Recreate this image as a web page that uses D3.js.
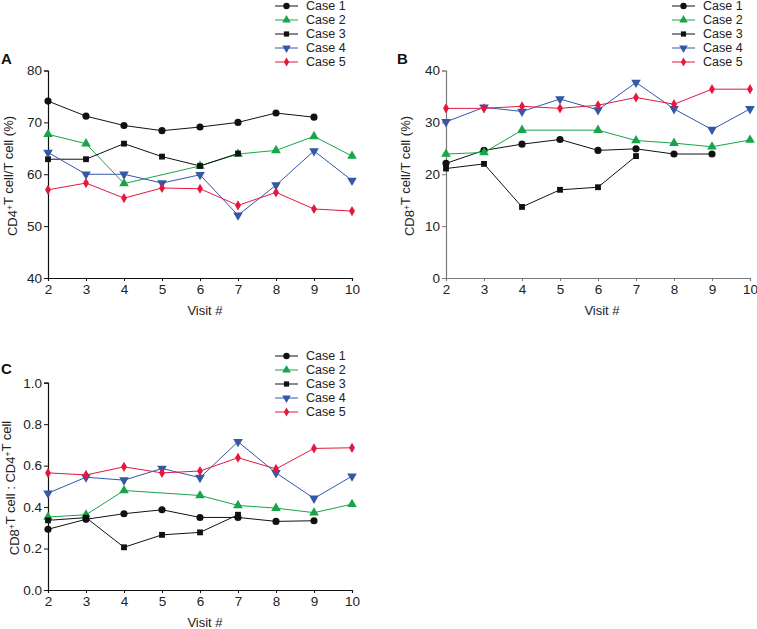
<!DOCTYPE html>
<html>
<head>
<meta charset="utf-8">
<script src="https://cdn.jsdelivr.net/npm/d3@7"></script>
<style>
  html, body { margin: 0; padding: 0; background: #fff; }
  svg { display: block; font-family: "Liberation Sans", Arial, Helvetica, sans-serif; }
</style>
</head>
<body>
<svg id="chart" width="757" height="629"></svg>
<script>
// ---- data ----
const visits = [2, 3, 4, 5, 6, 7, 8, 9, 10];
const caseNames = ["Case 1", "Case 2", "Case 3", "Case 4", "Case 5"];

// Panel A: CD4+ T cell / T cell (%)
const cd4Case1 = [74.1, 71.2, 69.4, 68.4, 69.1, 70.0, 71.8, 71.0, null];
const cd4Case2 = [67.7, 65.9, 58.2, null, 61.6, 63.9, 64.6, 67.3, 63.5];
const cd4Case3 = [62.9, 62.9, 65.9, 63.4, 61.6, 64.0, null, null, null];
const cd4Case4 = [64.2, 60.0, 60.0, 58.3, 59.9, 52.1, 57.9, 64.5, 58.8];
const cd4Case5 = [57.0, 58.3, 55.4, 57.35, 57.2, 54.0, 56.5, 53.3, 52.9];

// Panel B: CD8+ T cell / T cell (%)
const cd8Case1 = [22.1, 24.6, 25.8, 26.7, 24.6, 24.9, 23.9, 23.9, null];
const cd8Case2 = [23.9, 24.2, 28.5, null, 28.5, 26.5, 26.0, 25.3, 26.6];
const cd8Case3 = [21.1, 22.0, 13.7, 17.0, 17.5, 23.5, null, null, null];
const cd8Case4 = [30.1, 32.9, 32.1, 34.5, 32.4, 37.7, 32.6, 28.6, 32.6];
const cd8Case5 = [32.7, 32.7, 33.1, 32.7, 33.3, 34.8, 33.5, 36.4, 36.4];

// Panel C: CD8+ T cell : CD4+ T cell ratio
const ratioCase1 = [0.293, 0.341, 0.368, 0.387, 0.350, 0.350, 0.331, 0.334, null];
const ratioCase2 = [0.352, 0.363, 0.480, null, 0.456, 0.408, 0.395, 0.373, 0.414];
const ratioCase3 = [0.336, 0.349, 0.206, 0.266, 0.278, 0.363, null, null, null];
const ratioCase4 = [0.467, 0.544, 0.530, 0.586, 0.542, 0.715, 0.565, 0.442, 0.549];
const ratioCase5 = [0.565, 0.555, 0.594, 0.565, 0.574, 0.638, 0.584, 0.683, 0.686];

const yTicksA = [40, 50, 60, 70, 80];
const yTicksB = [0, 10, 20, 30, 40];
const yTicksC = [0, 0.2, 0.4, 0.6, 0.8, 1.0];

// ---- styles ----
const colors = ["#111111", "#17a54a", "#111111", "#3457a8", "#e5173f"];
const symbols = [d3.symbolCircle, d3.symbolTriangle, d3.symbolSquare, d3.symbolTriangle, d3.symbolDiamond];
const symSizes = [40, 40, 34, 40, 30];
const symRotate = [0, 0, 0, 180, 0];

const svg = d3.select("#chart");

function drawPanel(opt) {
  const g = svg.append("g");
  const x = d3.scaleLinear().domain([2, 10]).range([opt.x0, opt.x1]);
  const y = d3.scaleLinear().domain(opt.yDomain).range([opt.yBottom, opt.yTop]);

  const xAxis = g.append("g")
    .attr("transform", `translate(0,${opt.yBottom})`)
    .call(d3.axisBottom(x).tickValues(visits).tickSize(3).tickPadding(3).tickFormat(d3.format("d")));
  const yAxis = g.append("g")
    .attr("transform", `translate(${opt.x0},0)`)
    .call(d3.axisLeft(y).tickValues(opt.yTicks).tickSize(4).tickPadding(2).tickFormat(opt.fmt));
  [xAxis, yAxis].forEach(a => {
    a.select(".domain").attr("stroke", opt.axisColor).attr("stroke-width", 1.2);
    a.selectAll(".tick line").attr("stroke", opt.axisColor).attr("stroke-width", 1);
    a.selectAll(".tick text").attr("fill", "#222").style("font-size", "13.5px")
      .style("font-family", '"Liberation Sans", Arial, sans-serif');
  });

  const line = d3.line().x(d => x(d.v)).y(d => y(d.y));
  opt.series.forEach((vals, i) => {
    const pts = visits.map((v, k) => ({ v: v, y: vals[k] })).filter(d => d.y != null);
    g.append("path").datum(pts)
      .attr("d", line).attr("fill", "none")
      .attr("stroke", colors[i]).attr("stroke-width", 1);
    const sym = d3.symbol().type(symbols[i]).size(symSizes[i]);
    g.selectAll(null).data(pts).enter().append("path")
      .attr("d", sym)
      .attr("transform", d => `translate(${x(d.v)},${y(d.y)}) rotate(${symRotate[i]})`)
      .attr("fill", colors[i]);
  });

  // axis titles
  g.append("text")
    .attr("x", opt.xTitleX).attr("y", opt.xTitleY)
    .attr("text-anchor", "middle").attr("fill", "#222")
    .style("font-size", "13px").text("Visit #");

  const yt = g.append("text")
    .attr("transform", `translate(${opt.yTitleX},${opt.yTitleY}) rotate(-90)`)
    .attr("text-anchor", "middle").attr("fill", "#222")
    .style("font-size", "13px");
  opt.yTitleParts.forEach(p => {
    if (p.sup) {
      yt.append("tspan").attr("dy", "-4").style("font-size", "8.5px").text(p.t);
      yt.append("tspan").attr("dy", "4").text("");
    } else {
      yt.append("tspan").text(p.t);
    }
  });

  // panel letter
  g.append("text").attr("x", opt.letterX).attr("y", opt.letterY)
    .style("font-size", "15px").style("font-weight", "bold").attr("fill", "#111")
    .text(opt.letter);

  // legend
  const lg = g.append("g");
  caseNames.forEach((name, i) => {
    const yy = opt.legY + i * 14;
    lg.append("line").attr("x1", opt.legX).attr("x2", opt.legX + 23)
      .attr("y1", yy).attr("y2", yy).attr("stroke", colors[i]).attr("stroke-width", 1);
    lg.append("path").attr("d", d3.symbol().type(symbols[i]).size(symSizes[i] * 0.8)())
      .attr("transform", `translate(${opt.legX + 11.5},${yy}) rotate(${symRotate[i]})`)
      .attr("fill", colors[i]);
    lg.append("text").attr("x", opt.legX + 31).attr("y", yy + 4.3)
      .style("font-size", "12.5px").attr("fill", "#222").text(name);
  });
}

drawPanel({
  x0: 48, x1: 352, yTop: 70.5, yBottom: 278, yDomain: [40, 80], yTicks: yTicksA,
  fmt: d3.format("d"), axisColor: "#111",
  series: [cd4Case1, cd4Case2, cd4Case3, cd4Case4, cd4Case5],
  xTitleX: 205, xTitleY: 315, yTitleX: 17, yTitleY: 176,
  yTitleParts: [{t: "CD4"}, {t: "+", sup: true}, {t: "T cell/T cell (%)"}],
  letter: "A", letterX: 1, letterY: 64, legX: 275, legY: 6
});

drawPanel({
  x0: 446, x1: 750, yTop: 70.5, yBottom: 278, yDomain: [0, 40], yTicks: yTicksB,
  fmt: d3.format("d"), axisColor: "#7a7a7a",
  series: [cd8Case1, cd8Case2, cd8Case3, cd8Case4, cd8Case5],
  xTitleX: 602, xTitleY: 315, yTitleX: 414, yTitleY: 176,
  yTitleParts: [{t: "CD8"}, {t: "+", sup: true}, {t: "T cell/T cell (%)"}],
  letter: "B", letterX: 397, letterY: 64, legX: 672, legY: 6
});

drawPanel({
  x0: 48, x1: 352, yTop: 382.7, yBottom: 590, yDomain: [0, 1], yTicks: yTicksC,
  fmt: d3.format(".1f"), axisColor: "#111",
  series: [ratioCase1, ratioCase2, ratioCase3, ratioCase4, ratioCase5],
  xTitleX: 205, xTitleY: 627, yTitleX: 18.5, yTitleY: 488,
  yTitleParts: [{t: "CD8"}, {t: "+", sup: true}, {t: "T cell : CD4"}, {t: "+", sup: true}, {t: "T cell"}],
  letter: "C", letterX: 1, letterY: 374, legX: 275, legY: 356
});
</script>
</body>
</html>
